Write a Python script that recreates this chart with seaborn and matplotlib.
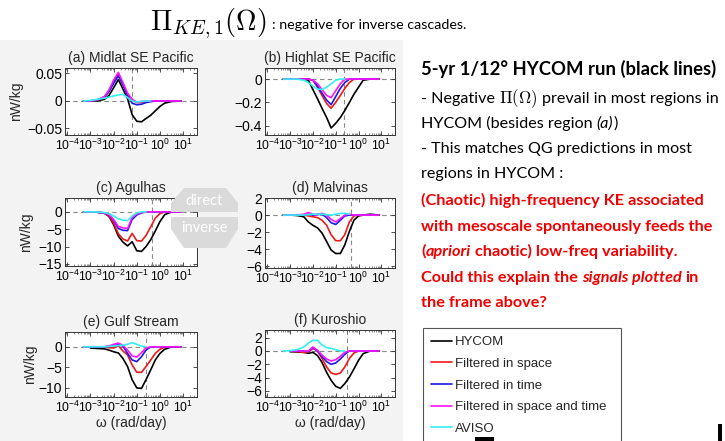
import numpy as np
import pandas as pd
import seaborn as sns
import matplotlib.pyplot as plt
from matplotlib.lines import Line2D
from matplotlib.patches import Polygon, Rectangle
from matplotlib.transforms import IdentityTransform
from matplotlib.ticker import FixedLocator, LogLocator, NullFormatter

nan = np.nan
W, H = 725, 441

# frequency grid (rad/day)
omega = [5e-4, 1e-3, 2e-3, 4e-3, 6.3e-3, 0.01, 0.016, 0.025, 0.04, 0.063,
         0.1, 0.16, 0.25, 0.4, 0.63, 1.0, 1.6, 3.2, 8.0]

series = ['HYCOM', 'Filtered in space', 'Filtered in time',
          'Filtered in space and time', 'AVISO']
colors = ['#000000', '#f01818', '#1a1ae6', '#ff14ff', '#33f0f0']

# (a) Midlat SE Pacific
a_hycom = [0, 0, 0, 0.003, 0.01, 0.024, 0.039, 0.022, 0.004, -0.025, -0.037, -0.038, -0.032, -0.026, -0.018, -0.01, -0.004, -0.001, 0]
a_space = [0, 0, 0.002, 0.007, 0.018, 0.035, 0.049, 0.03, 0.012, 0.002, -0.003, -0.003, -0.002, -0.001, 0, 0, 0, 0, 0]
a_time = [0, 0, 0.002, 0.007, 0.017, 0.032, 0.046, 0.03, 0.01, -0.004, -0.007, -0.006, -0.003, -0.001, 0, 0, 0, 0, 0]
a_both = [0, 0, 0.002, 0.008, 0.02, 0.038, 0.052, 0.034, 0.014, 0.003, -0.002, -0.001, 0, 0, 0, 0, 0, 0, 0]
a_aviso = [0, 0.001, 0.003, 0.005, 0.007, 0.009, 0.011, 0.012, 0.006, 0, -0.002, -0.001, 0, 0, nan, nan, nan, nan, nan]

# (b) Highlat SE Pacific
b_hycom = [0, 0, 0, 0, -0.01, -0.09, -0.17, -0.25, -0.33, -0.42, -0.38, -0.33, -0.27, -0.2, -0.13, -0.07, -0.01, 0, 0]
b_space = [0, 0, 0, 0, 0, -0.01, -0.07, -0.14, -0.21, -0.25, -0.2, -0.14, -0.08, -0.03, 0, 0, 0, 0, 0]
b_time = [0, 0, 0, 0, 0, -0.01, -0.06, -0.12, -0.18, -0.22, -0.15, -0.08, -0.03, 0, 0, 0, 0, 0, 0]
b_both = [0, 0, 0, 0, 0, -0.01, -0.04, -0.09, -0.14, -0.16, -0.1, -0.04, 0, 0, 0, 0, 0, 0, 0]
b_aviso = [0, 0, 0, -0.01, -0.03, -0.06, -0.085, -0.09, -0.07, -0.04, -0.01, 0, 0, nan, nan, nan, nan, nan, nan]

# (c) Agulhas
c_hycom = [0, 0, -0.1, -0.4, -1.3, -3.7, -7, -8.7, -9.8, -8.6, -11.2, -11.4, -10, -8, -5.5, -2.8, -0.8, 0, 0]
c_space = [0, 0, -0.1, -0.4, -1.2, -3.3, -6.3, -7.8, -8.4, -6.2, -8.3, -8.4, -6.8, -4.3, -1.8, -0.5, 0, 0, 0]
c_time = [0, 0, -0.1, -0.3, -0.9, -2.5, -4.8, -5.3, -5.4, -2.2, -0.9, -0.3, 0, 0, 0, 0, 0, 0, 0]
c_both = [0, 0, -0.1, -0.3, -0.8, -2.2, -4.2, -4.6, -4.8, -1.6, -0.6, -0.2, 0, 0, 0, 0, 0, 0, 0]
c_aviso = [0, 0, -0.05, -0.2, -0.5, -1.2, -2, -2.4, -2.5, -1.2, -0.3, 0, 0, nan, nan, nan, nan, nan, nan]

# (d) Malvinas
d_hycom = [0, 0, -0.05, -0.2, -0.8, -1.2, -1.5, -2.1, -3.1, -4.1, -4.5, -4.5, -3.5, -1.9, -0.6, -0.1, 0, 0.1, 0]
d_space = [0, 0, 0, 0, -0.1, -0.2, -0.3, -0.6, -1.2, -2.3, -3.0, -3.0, -2.3, -0.8, -0.1, 0, 0, 0, 0]
d_time = [0, 0, 0, 0, 0.1, 0, 0.1, 0.1, -0.3, -0.9, -1.1, -0.6, -0.1, 0, 0, 0, 0, 0, 0]
d_both = [0, 0, 0, 0.1, 0.3, 0.1, 0, 0.2, 0, -0.5, -0.8, -0.4, 0, 0.1, 0, 0, 0, 0, 0]
d_aviso = [0, 0, 0, 0, 0.05, 0.1, 0.1, 0.1, 0.05, 0, 0.1, 0.2, 0.2, 0.1, nan, nan, nan, nan, nan]

# (e) Gulf Stream
e_hycom = [nan, -0.3, -0.4, -0.5, -0.8, -1.2, -1.5, -2.8, -4.8, -8, -10, -10.1, -8, -5.6, -3.2, -1.6, -0.6, 0, 0]
e_space = [0, 0, 0, -0.1, -0.2, -0.3, 0.3, -1, -2, -4.4, -6.2, -6.2, -4.8, -3.2, -1.6, -0.6, -0.1, 0, 0]
e_time = [0, 0, 0, 0, 0.1, 0.3, 0.5, 0.2, -1.6, -3.2, -3.6, -2.4, -0.8, 0, 0, 0, 0, 0, 0]
e_both = [0, 0, 0, 0, 0.2, 0.6, 0.9, 0.4, -0.8, -2.2, -2.5, -1.4, -0.3, 0, 0, 0, 0, 0, 0]
e_aviso = [0, 0, 0, 0, 0.1, 0.2, 0.3, 0.4, 0.6, 1.0, 0.6, 0.2, 0, nan, nan, nan, nan, nan, nan]

# (f) Kuroshio
f_hycom = [nan, -0.1, -0.15, -0.2, -0.35, -0.2, -0.7, -1.7, -3.2, -4.4, -5.3, -5.6, -4.9, -3.9, -2.7, -1.4, -0.4, 0, 0]
f_space = [nan, 0, -0.1, -0.2, -0.2, 0.4, 0, -1.1, -2.4, -3.3, -3.5, -3.3, -2.4, -1.1, -0.3, 0, 0, 0, 0]
f_time = [nan, 0, 0, 0, -0.1, 0.5, 0, -0.8, -1.6, -2.0, -1.8, -1.2, -0.5, 0, 0, 0, 0, 0, 0]
f_both = [nan, 0, 0, 0, 0, 0.6, 0.1, -0.6, -1.2, -1.5, -1.3, -0.8, -0.2, 0, 0, 0, 0, 0, 0]
f_aviso = [0, 0.05, 0.2, 0.6, 1.2, 1.6, 1.6, 0.9, 0.5, 0.4, 0.2, 0, 0, nan, nan, nan, nan, nan, nan]

titles = ['(a) Midlat SE Pacific', '(b) Highlat SE Pacific', '(c) Agulhas',
          '(d) Malvinas', '(e) Gulf Stream', '(f) Kuroshio']
curves = [[a_hycom, a_space, a_time, a_both, a_aviso],
          [b_hycom, b_space, b_time, b_both, b_aviso],
          [c_hycom, c_space, c_time, c_both, c_aviso],
          [d_hycom, d_space, d_time, d_both, d_aviso],
          [e_hycom, e_space, e_time, e_both, e_aviso],
          [f_hycom, f_space, f_time, f_both, f_aviso]]
omega_marks = [0.06, 0.23, 0.46, 0.47, 0.25, 0.32]
yticks = [[-0.05, 0, 0.05], [-0.4, -0.2, 0], [-15, -10, -5, 0],
          [-6, -4, -2, 0, 2], [-10, -5, 0], [-6, -4, -2, 0, 2]]
ylims = [(-0.062, 0.06), (-0.48, 0.095), (-15.6, 4), (-6.2, 2), (-12.2, 3.6), (-6.9, 3.15)]
xticks = [1e-4, 1e-3, 1e-2, 1e-1, 1e0, 1e1]

# axes boxes in pixels: left, top, right, bottom
boxes = [(65, 68, 197, 135), (265, 68, 395, 135),
         (65, 198, 197, 266), (265, 198, 395, 268),
         (65, 332, 197, 397), (265, 330, 395, 397)]
ylab_x = [-0.318, None, -0.242, None, -0.212, None]

sns.set_theme(style='ticks')
plt.rcParams['font.family'] = ['Liberation Sans', 'DejaVu Sans']
plt.rcParams['axes.linewidth'] = 0.7
plt.rcParams['axes.edgecolor'] = '#333333'

fig = plt.figure(figsize=(W / 100, H / 100), dpi=100)
fig.patch.set_facecolor('white')

# grey frame behind the panels
fig.patches.append(Rectangle((0, 0), 403 / W, (H - 40) / H, transform=fig.transFigure,
                             facecolor='#f3f3f3', edgecolor='none', zorder=-10))

pix = IdentityTransform()

for i in range(6):
    x0, y0, x1, y1 = boxes[i]
    ax = fig.add_axes([x0 / W, 1 - y1 / H, (x1 - x0) / W, (y1 - y0) / H])
    ax.set_facecolor('white')
    ax.set_xscale('log')
    df = pd.DataFrame({
        'omega': omega * 5,
        'value': sum(curves[i], []),
        'series': [s for s in series for _ in omega],
    }).dropna()
    sns.lineplot(data=df, x='omega', y='value', hue='series', hue_order=series,
                 palette=colors, estimator=None, sort=False, legend=False,
                 lw=1.2, ax=ax)
    ax.axhline(0, color='#888888', lw=0.8, ls=(0, (4, 3)), zorder=0.5)
    ax.axvline(omega_marks[i], color='#888888', lw=0.8, ls=(0, (4, 3)), zorder=0.5)
    ax.set_xlim(10 ** -4.1, 10 ** 1.6)
    ax.set_ylim(*ylims[i])
    ax.xaxis.set_major_locator(FixedLocator(xticks))
    ax.set_xticklabels([r'$\mathregular{10^{%d}}$' % k for k in range(-4, 2)])
    ax.xaxis.set_minor_locator(LogLocator(base=10, subs=np.arange(2, 10) * 1.0, numticks=30))
    ax.xaxis.set_minor_formatter(NullFormatter())
    ax.set_yticks(yticks[i])
    ax.set_yticklabels([f'{v:g}'.replace('-', '\u2212') for v in yticks[i]])
    ax.tick_params(which='both', direction='in', top=True, right=True,
                   labelsize=10, colors='#333333', labelcolor='black', pad=2)
    ax.tick_params(axis='x', labelsize=8.8)
    ax.tick_params(which='major', length=3, width=0.6)
    ax.tick_params(which='minor', length=1.5, width=0.4)
    ax.set_title(titles[i], fontsize=10, pad=4)
    ax.set_xlabel('ω (rad/day)' if i >= 4 else '', fontsize=10, labelpad=1)
    if ylab_x[i] is not None:
        ax.set_ylabel('nW/kg', fontsize=10)
        ax.yaxis.set_label_coords(ylab_x[i], 0.5)
    else:
        ax.set_ylabel('')

# direct / inverse arrow shape
upper = [(171, 212), (171, 203), (184, 188), (226, 188), (238, 203), (238, 212)]
lower = [(171, 217), (171, 229), (184, 248), (226, 248), (238, 229), (238, 217)]
for poly in (upper, lower):
    fig.patches.append(Polygon([(x / W, 1 - y / H) for x, y in poly], closed=True,
                               transform=fig.transFigure, facecolor='#dadada',
                               edgecolor='none', zorder=5))
fig.text(204 / W, 1 - 201 / H, 'direct', color='white', fontsize=10.5, family='Lato',
         ha='center', va='center', zorder=6)
fig.text(204 / W, 1 - 228 / H, 'inverse', color='white', fontsize=10.5, family='Lato',
         ha='center', va='center', zorder=6)

# legend box
handles = [Line2D([], [], color=c, lw=1.2) for c in colors]
leg = fig.legend(handles, series, loc='upper left',
                 bbox_to_anchor=(423 / W, 1 - 443 / H, 198 / W, 115 / H), mode='expand',
                 borderaxespad=0, fontsize=9.5, handlelength=1.6, handletextpad=0.25,
                 labelspacing=0.72, borderpad=0.6, fancybox=False, framealpha=1,
                 edgecolor='#555555')
leg.get_frame().set_linewidth(0.8)

# slide text
renderer = fig.canvas.get_renderer()


def space_width(size, weight):
    t1 = fig.text(0, 0, 'x x', fontsize=size, weight=weight, family='Lato')
    t2 = fig.text(0, 0, 'xx', fontsize=size, weight=weight, family='Lato')
    w = t1.get_window_extent(renderer).width - t2.get_window_extent(renderer).width
    t1.remove()
    t2.remove()
    return w


def text_line(x, y, pieces, size, color='black', weight='normal'):
    sw = space_width(size, weight)
    for s, style in pieces:
        x += sw * (len(s) - len(s.lstrip(' ')))
        kw = dict(fontsize=size, color=color, weight=weight, family='Lato')
        if style == 'it':
            kw['style'] = 'italic'
        if style == 'math':
            kw['math_fontfamily'] = 'cm'
            kw['fontsize'] = size * 1.05
        t = fig.text(x, H - y, s.strip(' '), transform=pix, ha='left', va='baseline', **kw)
        x += t.get_window_extent(renderer).width
        x += sw * (len(s) - len(s.rstrip(' ')))


text_line(150, 30, [(r'$\Pi_{KE,1}(\Omega)$', 'math')], 19.5)
text_line(272, 29, [(': negative for inverse cascades.', 'n')], 10.3)

red = '#f20000'
body = 11.6
text_line(421, 75, [('5-yr 1/12° HYCOM run (black lines)', 'n')], 13.3, weight='bold')
text_line(421, 103, [('- Negative ', 'n'), (r'$\Pi(\Omega)$', 'math'),
                     (' prevail in most regions in', 'n')], body)
text_line(421, 128, [('HYCOM (besides region ', 'n'), ('(a)', 'it'), (')', 'n')], body)
text_line(421, 153, [('- This matches QG predictions in most', 'n')], body)
text_line(421, 178, [('regions in HYCOM :', 'n')], body)
text_line(421, 205, [('(Chaotic) high-frequency KE associated', 'n')], 11.7, red, 'bold')
text_line(421, 231, [('with mesoscale spontaneously feeds the', 'n')], 11.7, red, 'bold')
text_line(421, 256, [('(', 'n'), ('apriori', 'it'), (' chaotic) low-freq variability.', 'n')],
          11.7, red, 'bold')
text_line(421, 282, [('Could this explain the ', 'n'), ('signals plotted', 'it'), (' in', 'n')],
          11.7, red, 'bold')
text_line(421, 307, [('the frame above?', 'n')], 11.7, red, 'bold')

# small black marks at the slide edge
for x0, y0, x1, y1 in [(475, 437, 494, 441), (718, 424, 722, 441)]:
    fig.patches.append(Rectangle((x0 / W, 1 - y1 / H), (x1 - x0) / W, (y1 - y0) / H,
                                 transform=fig.transFigure, facecolor='black',
                                 edgecolor='none', zorder=7))

fig.savefig('out.png', dpi=100)
